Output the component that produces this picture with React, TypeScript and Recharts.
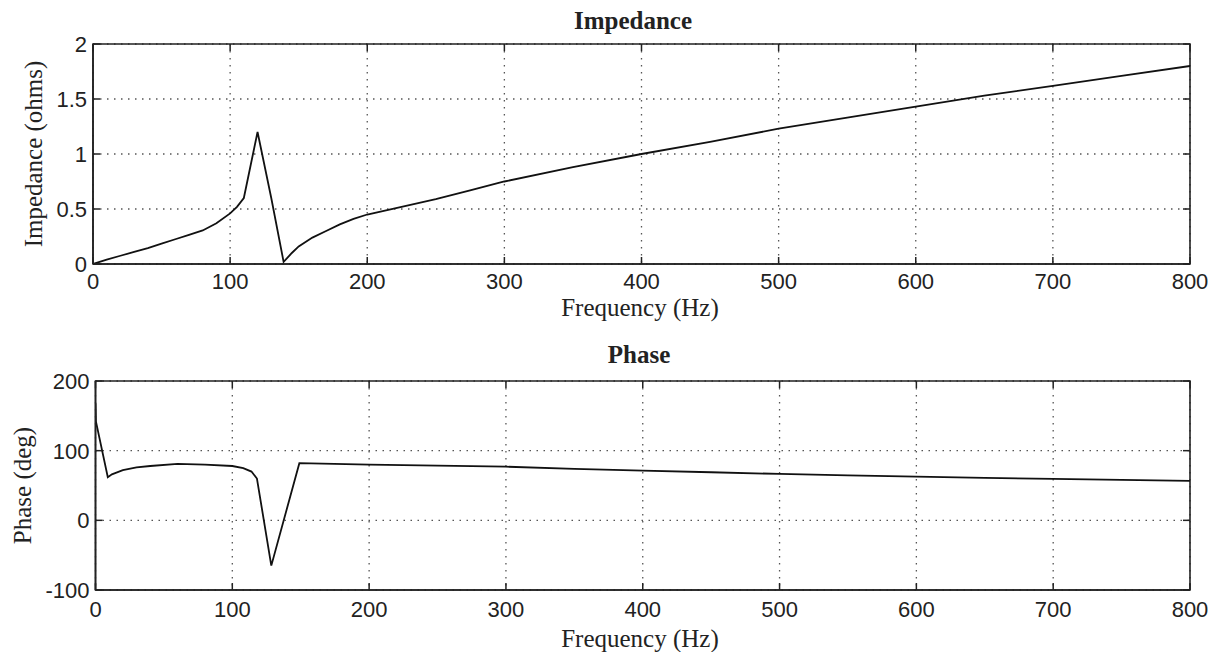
import React from 'react';
import { LineChart, Line, XAxis, YAxis, CartesianGrid, ReferenceArea } from 'recharts';

const freqTicks = [0, 100, 200, 300, 400, 500, 600, 700, 800];

const impedanceFreq = [0, 10, 20, 30, 40, 50, 60, 70, 80, 90, 100, 105, 110, 115, 120, 130, 139, 145, 150, 160, 170, 180, 190, 200, 225, 250, 275, 300, 350, 400, 450, 500, 550, 600, 650, 700, 750, 800];
const impedanceValues = [0, 0.04, 0.075, 0.11, 0.145, 0.185, 0.225, 0.265, 0.305, 0.37, 0.46, 0.52, 0.6, 0.9, 1.2, 0.6, 0.02, 0.1, 0.16, 0.24, 0.3, 0.36, 0.41, 0.45, 0.52, 0.59, 0.67, 0.75, 0.88, 1.0, 1.11, 1.23, 1.33, 1.43, 1.53, 1.62, 1.71, 1.8];
const impedanceTicks = [0, 0.5, 1, 1.5, 2];

const phaseFreq = [0, 0.3, 9, 12, 20, 30, 40, 60, 80, 100, 108, 114, 118, 128.5, 149, 200, 250, 300, 350, 400, 450, 500, 550, 600, 650, 700, 750, 800];
const phaseValues = [168, 142, 62, 66, 72, 76, 78, 81, 80, 78, 75, 70, 60, -65, 82, 80, 78.5, 77, 74, 71.3, 69, 66.6, 64.5, 62.8, 61, 59.5, 58, 56.5];
const phaseTicks = [-100, 0, 100, 200];

const impedanceData = impedanceFreq.map((f, i) => ({ f, v: impedanceValues[i] }));
const phaseData = phaseFreq.map((f, i) => ({ f, v: phaseValues[i] }));

const TICK_FONT = '"Liberation Sans", Arial, sans-serif';
const SERIF = '"Liberation Serif", "Times New Roman", serif';
const INK = '#222';
const CHART_W = 1218;

const BottomTick = (props: any) => {
  const { x, y, payload, top, labelDy } = props;
  return (
    <g>
      <line x1={x} x2={x} y1={y} y2={y - 7} stroke={INK} strokeWidth={1.5} />
      <line x1={x} x2={x} y1={top} y2={top + 7} stroke={INK} strokeWidth={1.5} />
      <text x={x} y={y + labelDy} textAnchor="middle" fontFamily={TICK_FONT} fontSize={22} fill={INK}>
        {payload.value}
      </text>
    </g>
  );
};

const LeftTick = (props: any) => {
  const { x, y, payload, right } = props;
  return (
    <g>
      <line x1={x} x2={x + 7} y1={y} y2={y} stroke={INK} strokeWidth={1.5} />
      <line x1={right} x2={right - 7} y1={y} y2={y} stroke={INK} strokeWidth={1.5} />
      <text x={x - 6} y={y + 8} textAnchor="end" fontFamily={TICK_FONT} fontSize={22} fill={INK}>
        {payload.value}
      </text>
    </g>
  );
};

type PanelProps = {
  data: { f: number; v: number }[];
  yTicks: number[];
  yDomain: [number, number];
  title: string;
  yLabel: string;
  height: number;
  margin: { top: number; right: number; left: number; bottom: number };
  yLabelX: number;
  titleX: number;
  titleGap: number;
  tickDy: number;
  xLabelDy: number;
};

const Panel = ({ data, yTicks, yDomain, title, yLabel, height, margin, yLabelX, titleX, titleGap, tickDy, xLabelDy }: PanelProps) => (
  <LineChart width={CHART_W} height={height} data={data} margin={margin}>
    <CartesianGrid
      stroke="#555"
      strokeDasharray="1.5 5.5"
      strokeWidth={1.3}
      horizontalValues={yTicks}
      verticalValues={freqTicks}
    />
    <ReferenceArea
      x1={0}
      x2={800}
      y1={yDomain[0]}
      y2={yDomain[1]}
      fill="none"
      fillOpacity={0}
      stroke={INK}
      strokeWidth={1.6}
      strokeOpacity={1}
      ifOverflow="visible"
    />
    <XAxis
      dataKey="f"
      type="number"
      domain={[0, 800]}
      ticks={freqTicks}
      allowDataOverflow
      height={30}
      tickSize={0}
      tickMargin={0}
      tickLine={false}
      axisLine={{ stroke: INK, strokeWidth: 1.6 }}
      tick={<BottomTick top={margin.top} labelDy={tickDy} />}
      interval={0}
      label={{
        content: (p: any) => {
          const vb = p.viewBox;
          return (
            <g>
              <text x={640} y={vb.y + xLabelDy} textAnchor="middle" fontFamily={SERIF} fontSize={25} fill={INK}>
                Frequency (Hz)
              </text>
              <text x={titleX} y={margin.top - titleGap} textAnchor="middle" fontFamily={SERIF} fontWeight="bold" fontSize={25} fill={INK}>
                {title}
              </text>
            </g>
          );
        },
      }}
    />
    <YAxis
      type="number"
      domain={yDomain}
      ticks={yTicks}
      allowDataOverflow
      width={60}
      tickSize={0}
      tickMargin={0}
      tickLine={false}
      axisLine={{ stroke: INK, strokeWidth: 1.6 }}
      tick={<LeftTick right={CHART_W - margin.right} />}
      interval={0}
      label={{
        content: (p: any) => {
          const vb = p.viewBox;
          const cy = vb.y + vb.height / 2;
          return (
            <text
              x={yLabelX}
              y={cy}
              transform={`rotate(-90 ${yLabelX} ${cy})`}
              textAnchor="middle"
              dominantBaseline="central"
              fontFamily={SERIF}
              fontSize={25}
              fill={INK}
            >
              {yLabel}
            </text>
          );
        },
      }}
    />
    <Line
      type="linear"
      dataKey="v"
      stroke="#111"
      strokeWidth={1.8}
      dot={false}
      activeDot={false}
      isAnimationActive={false}
    />
  </LineChart>
);

export default function App() {
  return (
    <div style={{ position: 'absolute', left: 0, top: 0, width: 1218, height: 652, background: '#fff' }}>
      <div style={{ position: 'absolute', left: 0, top: 0 }}>
        <Panel
          data={impedanceData}
          yTicks={impedanceTicks}
          yDomain={[0, 2]}
          title="Impedance"
          yLabel="Impedance (ohms)"
          height={326}
          margin={{ top: 44, right: 28, left: 33, bottom: 32 }}
          yLabelX={33}
          titleX={633}
          titleGap={15}
          tickDy={25}
          xLabelDy={52}
        />
      </div>
      <div style={{ position: 'absolute', left: 0, top: 320 }}>
        <Panel
          data={phaseData}
          yTicks={phaseTicks}
          yDomain={[-100, 200]}
          title="Phase"
          yLabel="Phase (deg)"
          height={332}
          margin={{ top: 61, right: 28, left: 35.5, bottom: 32 }}
          yLabelX={22}
          titleX={639}
          titleGap={18}
          tickDy={27}
          xLabelDy={57}
        />
      </div>
    </div>
  );
}
